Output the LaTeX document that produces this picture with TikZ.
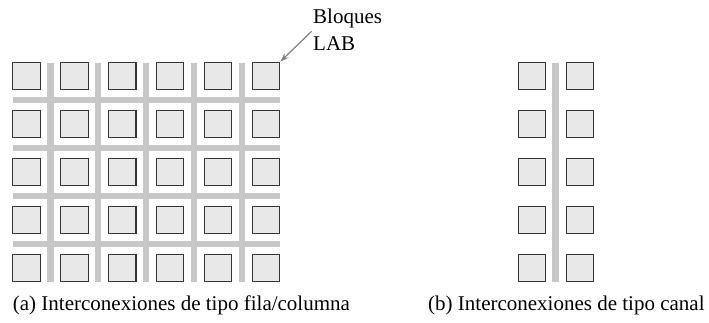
\documentclass[tikz,border=0pt]{standalone}
\usepackage{fontspec}
\setmainfont{Liberation Serif}
\usetikzlibrary{arrows.meta}
\begin{document}
\begin{tikzpicture}[
    x=1pt, y=-1pt,
    lab/.style={rectangle, draw=black!80, line width=1.1pt, fill=black!9, minimum size=27.5pt, inner sep=0pt},
    bus/.style={line width=6.5pt, draw=black!22},
    pointer/.style={-{Stealth[length=9pt, width=6pt]}, draw=black!50, line width=1.2pt},
    caption/.style={font=\fontsize{21}{27}\selectfont, inner sep=0pt, anchor=base west}
]
\useasboundingbox (0,0) rectangle (709,322);

% Routing channels (a)
\foreach \i in {0,...,4}
  \draw[bus] (50.3+47.9*\i, 62.5) -- (50.3+47.9*\i, 282);
\foreach \j in {0,...,3}
  \draw[bus] (12.7, 100+48*\j) -- (280, 100+48*\j);

% LAB blocks (a)
\foreach \i in {0,...,5}
  \foreach \j in {0,...,4}
    \node[lab] (a-\i-\j) at (26.45+47.9*\i, 76+48*\j) {};

% Channel and LAB blocks (b)
\draw[bus] (555.5, 62.5) -- (555.5, 282);
\foreach \j in {0,...,4} {
  \node[lab] (bl-\j) at (531.8, 76+48*\j) {};
  \node[lab] (br-\j) at (580, 76+48*\j) {};
}

% Labels
\node[caption, align=left, anchor=north west] (blk) at (313, 8.7) {Bloques\\LAB};
\draw[pointer] ([shift={(-1.3,1.5)}]blk.west) -- (a-5-0.north east);

\node[caption] (capa) at (12.7, 310) {(a) Interconexiones de tipo fila/columna};
\node[caption] (capb) at (428, 310) {(b) Interconexiones de tipo canal};

\end{tikzpicture}
\end{document}
